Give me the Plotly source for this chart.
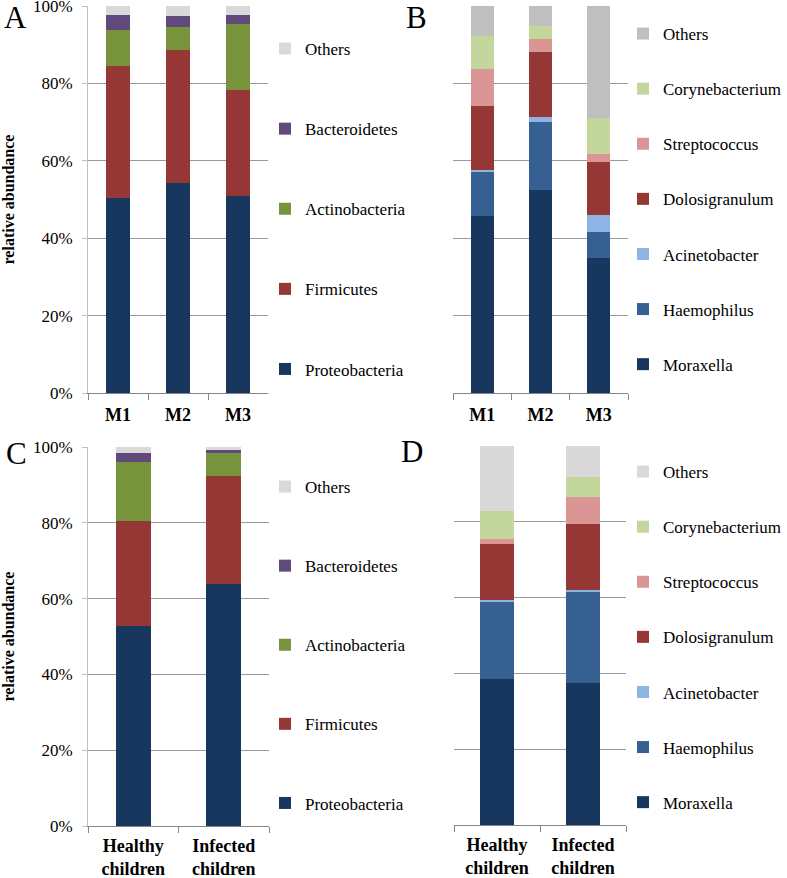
import plotly.graph_objects as go

# Panel A / C: phylum level
phyla = ["Proteobacteria", "Firmicutes", "Actinobacteria", "Bacteroidetes", "Others"]
phylum_colors = ["#17375E", "#953735", "#77933C", "#604A7B", "#D9D9D9"]

months = ["M1", "M2", "M3"]
a_proteo = [50.5, 54.3, 50.9]
a_firm = [34.1, 34.3, 27.4]
a_actino = [9.2, 6.0, 17.0]
a_bact = [3.9, 2.8, 2.4]
a_others = [2.3, 2.6, 2.3]

groups = ["Healthy<br>children", "Infected<br>children"]
c_proteo = [52.9, 63.9]
c_firm = [27.6, 28.5]
c_actino = [15.5, 5.9]
c_bact = [2.5, 1.0]
c_others = [1.5, 0.7]

# Panel B / D: genus level
genera = ["Moraxella", "Haemophilus", "Acinetobacter", "Dolosigranulum",
          "Streptococcus", "Corynebacterium", "Others"]
genus_colors_b = ["#17375E", "#376092", "#8EB4E3", "#953735", "#DA9694", "#C3D69B", "#BFBFBF"]
genus_colors_d = ["#17375E", "#376092", "#8EB4E3", "#953735", "#DA9694", "#C3D69B", "#D9D9D9"]

b_mor = [45.8, 52.5, 34.9]
b_haem = [11.5, 17.6, 6.7]
b_acin = [0.4, 1.2, 4.3]
b_dolo = [16.5, 16.7, 13.9]
b_strep = [9.4, 3.4, 2.0]
b_cory = [8.7, 3.4, 9.2]
b_others = [7.7, 5.2, 29.0]

d_mor = [38.5, 37.5]
d_haem = [20.3, 24.1]
d_acin = [0.6, 0.3]
d_dolo = [14.8, 17.4]
d_strep = [1.3, 7.2]
d_cory = [7.3, 5.2]
d_others = [17.2, 8.4]

panels = [
    ("x", "y", "legend", months, [a_proteo, a_firm, a_actino, a_bact, a_others], phyla, phylum_colors),
    ("x2", "y2", "legend2", months, [b_mor, b_haem, b_acin, b_dolo, b_strep, b_cory, b_others], genera, genus_colors_b),
    ("x3", "y3", "legend3", groups, [c_proteo, c_firm, c_actino, c_bact, c_others], phyla, phylum_colors),
    ("x4", "y4", "legend4", groups, [d_mor, d_haem, d_acin, d_dolo, d_strep, d_cory, d_others], genera, genus_colors_d),
]

fig = go.Figure()
for xa, ya, leg, cats, series, names, colors in panels:
    for i, (vals, name, color) in enumerate(zip(series, names, colors)):
        fig.add_trace(go.Bar(
            x=cats, y=vals, name=name, xaxis=xa, yaxis=ya, legend=leg,
            legendgroup=leg + name, legendrank=100 - i,
            marker_color=color, marker_line_width=0, width=0.39,
        ))

serif = "Liberation Serif"
W, H = 787, 878

def xdom(l, r):
    return [l / W, r / W]

def ydom(t, b):
    return [1 - b / H, 1 - t / H]

xaxis_style = dict(showline=True, linecolor="#868686", ticks="outside", tickson="boundaries",
                   ticklen=6, tickcolor="#868686", showgrid=False,
                   tickfont=dict(family=serif, size=18, color="black"))
yaxis_style = dict(range=[0, 100], dtick=20, showgrid=True, gridcolor="#9A9A9A",
                   zeroline=False, fixedrange=True)
ylabel_style = dict(showline=True, linecolor="#BFBFBF", ticks="outside", ticklen=5,
                    tickcolor="#BFBFBF", ticksuffix="%", ticklabelstandoff=6,
                    ticklabeloverflow="allow",
                    tickfont=dict(family=serif, size=17, color="black"),
                    title=dict(text="<b>relative abundance</b>", standoff=16,
                               font=dict(family=serif, size=16, color="black")))

legend_style = dict(bgcolor="rgba(0,0,0,0)", traceorder="grouped",
                    font=dict(family=serif, size=17, color="black"),
                    yanchor="top", itemclick=False)

fig.update_layout(
    width=W, height=H, margin=dict(l=0, r=0, t=0, b=0, autoexpand=False),
    font=dict(family=serif, color="black"),
    plot_bgcolor="white", paper_bgcolor="white", barmode="stack",
    xaxis=dict(domain=xdom(88, 268), anchor="y", ticklabelstandoff=5, **xaxis_style),
    xaxis2=dict(domain=xdom(453, 628), anchor="y2", ticklabelstandoff=5, **xaxis_style),
    xaxis3=dict(domain=xdom(88, 269), anchor="y3", ticklabelstandoff=3, **xaxis_style),
    xaxis4=dict(domain=xdom(454, 626), anchor="y4", ticklabelstandoff=3, **xaxis_style),
    yaxis=dict(domain=ydom(6, 393), anchor="x", **ylabel_style, **yaxis_style),
    yaxis2=dict(domain=ydom(6, 393), anchor="x2", showticklabels=False, **yaxis_style),
    yaxis3=dict(domain=ydom(447, 826), anchor="x3", **ylabel_style, **yaxis_style),
    yaxis4=dict(domain=ydom(446, 825), anchor="x4", showticklabels=False, **yaxis_style),
    legend=dict(x=265 / W, xanchor="left", y=1 - 31 / H, tracegroupgap=55, **legend_style),
    legend2=dict(x=1, xanchor="right", y=1 - 16 / H, tracegroupgap=30, **legend_style),
    legend3=dict(x=265 / W, xanchor="left", y=1 - 469 / H, tracegroupgap=54, **legend_style),
    legend4=dict(x=1, xanchor="right", y=1 - 454 / H, tracegroupgap=30, **legend_style),
)

for ax, cats in [("xaxis", months), ("xaxis2", months), ("xaxis3", groups), ("xaxis4", groups)]:
    fig.layout[ax].update(tickmode="array", tickvals=cats,
                          ticktext=[f"<b>{c.replace('<br>', '</b><br><b>')}</b>" for c in cats])

# panel letters
for letter, px_x, px_y in [("A", 2, 18), ("B", 404, 18), ("C", 4, 453), ("D", 399, 451)]:
    fig.add_annotation(text=letter, x=px_x / W, y=1 - px_y / H, xref="paper", yref="paper",
                       xanchor="left", yanchor="middle", showarrow=False,
                       font=dict(family=serif, size=31, color="black"))

# remove the default page margin so the figure fills the window
fig.write_html("out.html", config={"displayModeBar": False},
               post_script="document.body.style.margin='0';")
